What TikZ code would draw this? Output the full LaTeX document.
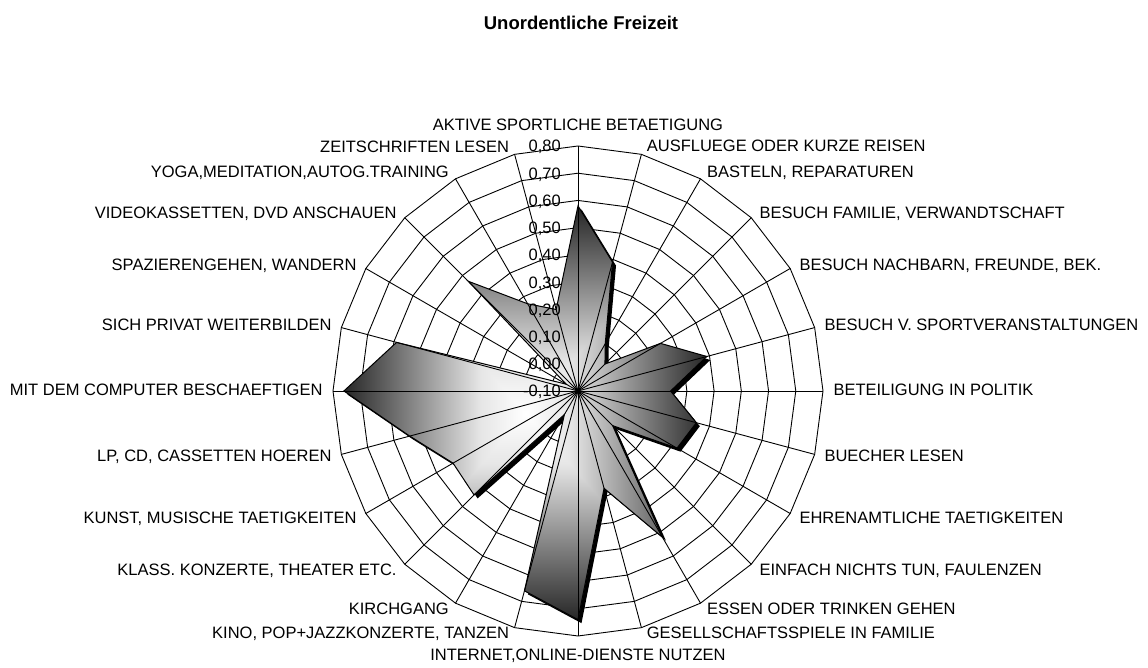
\documentclass[tikz,border=0pt]{standalone}
\usepackage{fontspec}
\setmainfont{Liberation Sans}
% box-shaped "from centre" gradient, built from a horizontal and a vertical part
\pgfdeclarehorizontalshading{boxh}{100bp}{color(0bp)=(black!85); color(25bp)=(black!85); color(31.25bp)=(black!60); color(37.5bp)=(black!35); color(43.75bp)=(black!10); color(50bp)=(white); color(56.25bp)=(black!10); color(62.5bp)=(black!35); color(68.75bp)=(black!60); color(75bp)=(black!85); color(100bp)=(black!85)}
\pgfdeclareverticalshading{boxv}{100bp}{color(0bp)=(black!85); color(25bp)=(black!85); color(31.25bp)=(black!60); color(37.5bp)=(black!35); color(43.75bp)=(black!10); color(50bp)=(white); color(56.25bp)=(black!10); color(62.5bp)=(black!35); color(68.75bp)=(black!60); color(75bp)=(black!85); color(100bp)=(black!85)}
\begin{document}
\begin{tikzpicture}[x=1pt,y=1pt,line join=miter]
\tikzset{
  gridline/.style={black, line width=0.9pt},
  lab/.style={font=\fontsize{16.5}{18}\selectfont, inner sep=0pt, text height=11.8pt, text depth=0pt},
  labw/.style={lab, anchor=west},
  labe/.style={lab, anchor=east},
  ticklab/.style={lab, anchor=east},
}
\useasboundingbox (-578,-277) rectangle (570,391);
\def\R{245}
\coordinate (c) at (0,0);

% polygonal rings, -0,10 ... 0,80
\foreach \k in {1,...,9}{
  \draw[gridline] (90:{\k*\R/9}) \foreach \i in {1,...,23}{ -- ({90-15*\i}:{\k*\R/9}) } -- cycle;
}

% data points
\def\vals{0.58,0.39,0.10,0.04,0.25,0.39,0.24,0.35,0.32,0.08,0.52,0.27,0.74,0.66,0.00,0.44,0.43,0.54,0.76,0.59,-0.05,0.47,0.27,0.21}
\foreach \v [count=\i from 0] in \vals {
  \coordinate (p\i) at ({90-15*\i}:{(\v+0.1)/0.9*\R});
}

% shadow
\fill[black] ([shift={(3.5,-3.5)}]p0) \foreach \i in {1,...,23}{ -- ([shift={(3.5,-3.5)}]p\i) } -- cycle;

% gradient fill
\begin{scope}
  \clip (p0) \foreach \i in {1,...,23}{ -- (p\i) } -- cycle;
  \shade[shading=boxh] (-234,-229) rectangle (129,184);
  \begin{scope}
    \clip (-234,184) -- (129,184) -- (-52.5,-22.5) -- cycle
          (-234,-229) -- (129,-229) -- (-52.5,-22.5) -- cycle;
    \shade[shading=boxv] (-234,-229) rectangle (129,184);
  \end{scope}
\end{scope}
\draw[black, line width=1pt] (p0) \foreach \i in {1,...,23}{ -- (p\i) } -- cycle;

% spokes
\foreach \i in {0,...,23}{
  \coordinate (o\i) at ({90-15*\i}:\R);
  \draw[gridline] (c) -- (o\i);
}

% value axis labels
\foreach \k/\t in {0/{-0,10},1/{0,00},2/{0,10},3/{0,20},4/{0,30},5/{0,40},6/{0,50},7/{0,60},8/{0,70},9/{0,80}}{
  \node[ticklab] (t\k) at (-17,{\k*\R/9}) {\t};
}

% category labels
\node[lab] (l0) at (0,266) {AKTIVE SPORTLICHE BETAETIGUNG};
\node[labw] (l1) at (68.7,245) {AUSFLUEGE ODER KURZE REISEN};
\node[labw] (l2) at (129,219) {BASTELN, REPARATUREN};
\node[labw] (l3) at (181.3,178.7) {BESUCH FAMILIE, VERWANDTSCHAFT};
\node[labw] (l4) at (221.3,126) {BESUCH NACHBARN, FREUNDE, BEK.};
\node[labw] (l5) at (246.3,66) {BESUCH V. SPORTVERANSTALTUNGEN};
\node[labw] (l6) at (255.3,1) {BETEILIGUNG IN POLITIK};
\node[labw] (l7) at (246.3,-65) {BUECHER LESEN};
\node[labw] (l8) at (221.3,-126.3) {EHRENAMTLICHE TAETIGKEITEN};
\node[labw] (l9) at (181.3,-178.3) {EINFACH NICHTS TUN, FAULENZEN};
\node[labw] (l10) at (129,-218) {ESSEN ODER TRINKEN GEHEN};
\node[labw] (l11) at (68.7,-242) {GESELLSCHAFTSSPIELE IN FAMILIE};
\node[lab] (l12) at (0,-264) {INTERNET,ONLINE-DIENSTE NUTZEN};
\node[labe] (l13) at (-68.7,-242) {KINO, POP+JAZZKONZERTE, TANZEN};
\node[labe] (l14) at (-129,-218) {KIRCHGANG};
\node[labe] (l15) at (-181.3,-178.3) {KLASS. KONZERTE, THEATER ETC.};
\node[labe] (l16) at (-221.3,-126.3) {KUNST, MUSISCHE TAETIGKEITEN};
\node[labe] (l17) at (-246.3,-65) {LP, CD, CASSETTEN HOEREN};
\node[labe] (l18) at (-255.3,1) {MIT DEM COMPUTER BESCHAEFTIGEN};
\node[labe] (l19) at (-246.3,66) {SICH PRIVAT WEITERBILDEN};
\node[labe] (l20) at (-221.3,126) {SPAZIERENGEHEN, WANDERN};
\node[labe] (l21) at (-181.3,178.7) {VIDEOKASSETTEN, DVD ANSCHAUEN};
\node[labe] (l22) at (-129,219) {YOGA,MEDITATION,AUTOG.TRAINING};
\node[labe] (l23) at (-68.7,244) {ZEITSCHRIFTEN LESEN};

% title
\node[inner sep=0pt, font=\bfseries\fontsize{18.5}{20}\selectfont] (title) at (3,368) {Unordentliche Freizeit};
\end{tikzpicture}
\end{document}
